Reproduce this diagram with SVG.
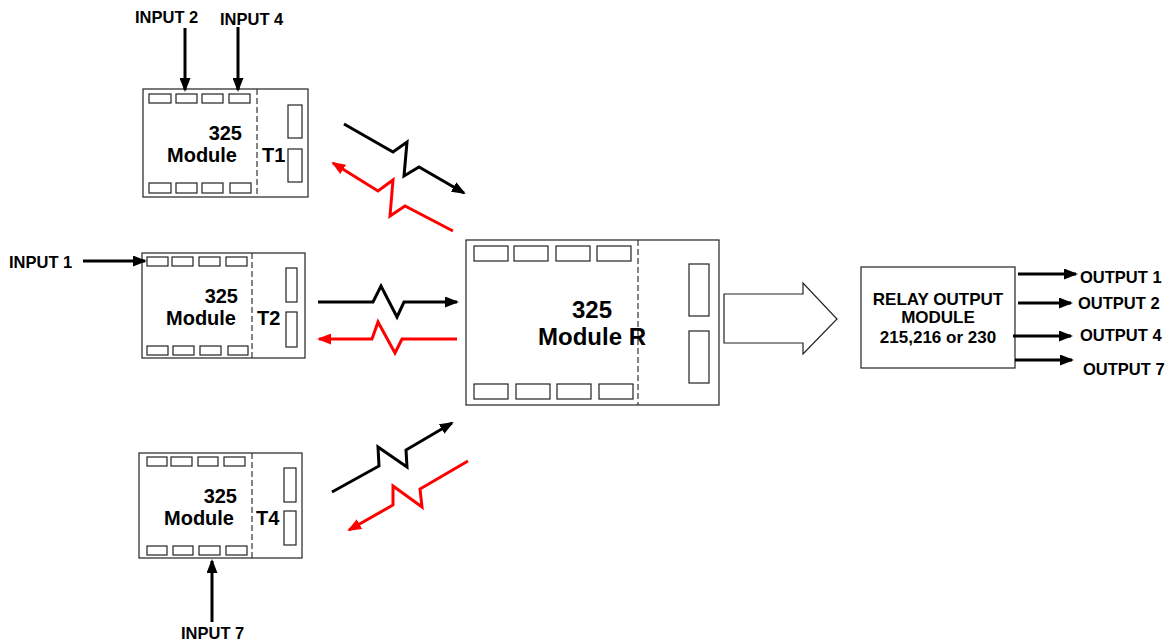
<svg xmlns="http://www.w3.org/2000/svg" width="1174" height="644" viewBox="0 0 1174 644">
<style>
text{font-family:"Liberation Sans",Arial,sans-serif;font-weight:bold;fill:#000}
.lbl{font-size:16.5px}
.mod{font-size:20px}
.big{font-size:24px}
.rel{font-size:17px}
.box{fill:#fff;stroke:#222;stroke-width:1.2}
.sq{fill:#fff;stroke:#222;stroke-width:1.2}
.dash{stroke:#333;stroke-width:1.2;stroke-dasharray:6,3;fill:none}
.k{stroke:#000;stroke-width:3;fill:none;stroke-linejoin:miter}
.r{stroke:#f00;stroke-width:3;fill:none;stroke-linejoin:miter}
</style>
<defs>
<marker id="ak" viewBox="0 0 14 11" refX="12" refY="5.5" markerWidth="14" markerHeight="11" markerUnits="userSpaceOnUse" orient="auto"><path d="M0,0 L14,5.5 L0,11 Z" fill="#000"/></marker>
<marker id="ar" viewBox="0 0 14 11" refX="12" refY="5.5" markerWidth="14" markerHeight="11" markerUnits="userSpaceOnUse" orient="auto"><path d="M0,0 L14,5.5 L0,11 Z" fill="#f00"/></marker>
</defs>
<rect width="1174" height="644" fill="#fff"/>

<g id="T1">
<rect class="box" x="143" y="89" width="165" height="108"/>
<line class="dash" x1="257" y1="89" x2="257" y2="197"/>
<rect class="sq" x="149" y="94" width="22" height="9"/><rect class="sq" x="176" y="94" width="21" height="9"/><rect class="sq" x="202" y="94" width="21" height="9"/><rect class="sq" x="229" y="94" width="21" height="9"/>
<rect class="sq" x="149" y="183" width="22" height="10"/><rect class="sq" x="176" y="183" width="21" height="10"/><rect class="sq" x="202" y="183" width="21" height="10"/><rect class="sq" x="230" y="183" width="21" height="10"/>
<rect class="sq" x="288" y="105" width="14" height="33"/><rect class="sq" x="288" y="149" width="14" height="33"/>
<text class="mod" x="242" y="140" text-anchor="end">325</text>
<text class="mod" x="167" y="162">Module</text>
<text class="mod" x="262" y="162">T1</text>
</g>

<g id="T2">
<rect class="box" x="142" y="253" width="163" height="105"/>
<line class="dash" x1="252" y1="253" x2="252" y2="358"/>
<rect class="sq" x="147" y="257" width="21" height="9"/><rect class="sq" x="172" y="257" width="21" height="9"/><rect class="sq" x="199" y="257" width="21" height="9"/><rect class="sq" x="226" y="257" width="21" height="9"/>
<rect class="sq" x="147" y="346" width="21" height="9"/><rect class="sq" x="173" y="346" width="21" height="9"/><rect class="sq" x="200" y="346" width="21" height="9"/><rect class="sq" x="228" y="346" width="20" height="9"/>
<rect class="sq" x="286" y="268" width="11" height="34"/><rect class="sq" x="286" y="312" width="11" height="35"/>
<text class="mod" x="238" y="303" text-anchor="end">325</text>
<text class="mod" x="166" y="325">Module</text>
<text class="mod" x="257" y="325">T2</text>
</g>

<g id="T4">
<rect class="box" x="139" y="453" width="163" height="105"/>
<line class="dash" x1="252" y1="453" x2="252" y2="558"/>
<rect class="sq" x="147" y="457" width="20" height="9"/><rect class="sq" x="171" y="457" width="21" height="9"/><rect class="sq" x="198" y="457" width="20" height="9"/><rect class="sq" x="224" y="457" width="21" height="9"/>
<rect class="sq" x="147" y="546" width="20" height="9"/><rect class="sq" x="173" y="546" width="20" height="9"/><rect class="sq" x="199" y="546" width="21" height="9"/><rect class="sq" x="226" y="546" width="21" height="9"/>
<rect class="sq" x="284" y="468" width="12" height="34"/><rect class="sq" x="284" y="511" width="12" height="34"/>
<text class="mod" x="237" y="503" text-anchor="end">325</text>
<text class="mod" x="164" y="525">Module</text>
<text class="mod" x="256" y="525">T4</text>
</g>

<g id="R">
<rect class="box" x="466" y="240" width="253" height="165"/>
<line class="dash" x1="638" y1="240" x2="638" y2="405"/>
<rect class="sq" x="474" y="246" width="34" height="15"/><rect class="sq" x="514" y="246" width="34" height="15"/><rect class="sq" x="556" y="246" width="34" height="15"/><rect class="sq" x="597" y="246" width="34" height="15"/>
<rect class="sq" x="474" y="384" width="34" height="15"/><rect class="sq" x="516" y="384" width="34" height="15"/><rect class="sq" x="557" y="384" width="34" height="15"/><rect class="sq" x="599" y="384" width="34" height="15"/>
<rect class="sq" x="689" y="264" width="20" height="52"/><rect class="sq" x="689" y="331" width="20" height="52"/>
<text class="big" x="592" y="318" text-anchor="middle">325</text>
<text class="big" x="538" y="345">Module R</text>
</g>

<g id="bigarrow">
<polygon points="724,294 803,294 803,283 837,319 803,354 803,343 724,343" fill="#fff" stroke="#222" stroke-width="1.2"/>
</g>

<g id="relay">
<rect class="box" x="861" y="267" width="154" height="101"/>
<text class="rel" x="938" y="305" text-anchor="middle">RELAY OUTPUT</text>
<text class="rel" x="938" y="323" text-anchor="middle">MODULE</text>
<text class="rel" x="938" y="343" text-anchor="middle">215,216 or 230</text>
</g>

<g id="labels">
<text class="lbl" x="135" y="23">INPUT 2</text>
<text class="lbl" x="220" y="25">INPUT 4</text>
<text class="lbl" x="9" y="268">INPUT 1</text>
<text class="lbl" x="181" y="639">INPUT 7</text>
<text class="lbl" x="1080" y="283">OUTPUT 1</text>
<text class="lbl" x="1078" y="309">OUTPUT 2</text>
<text class="lbl" x="1080" y="341">OUTPUT 4</text>
<text class="lbl" x="1083" y="375">OUTPUT 7</text>
</g>

<g id="connectors">
<line class="k" x1="185" y1="28" x2="185" y2="90" marker-end="url(#ak)"/>
<line class="k" x1="238" y1="27" x2="238" y2="90" marker-end="url(#ak)"/>
<line class="k" x1="83" y1="261" x2="145" y2="261" marker-end="url(#ak)"/>
<line class="k" x1="212" y1="622" x2="212" y2="561" marker-end="url(#ak)"/>
<line class="k" x1="1018" y1="274" x2="1076" y2="274" marker-end="url(#ak)"/>
<line class="k" x1="1018" y1="303" x2="1071" y2="303" marker-end="url(#ak)"/>
<line class="k" x1="1013" y1="336" x2="1071" y2="336" marker-end="url(#ak)"/>
<line class="k" x1="1015" y1="360" x2="1072" y2="360" marker-end="url(#ak)"/>
<polyline class="k" points="344,124 393,152 407,142 404,176 419,167 464,193" marker-end="url(#ak)"/>
<polyline class="r" points="453,231 405,206 390,216 393,180 378,191 333,163" marker-end="url(#ar)"/>
<polyline class="k" points="318,302 373,302 381,286 397,317 404,302 457,302" marker-end="url(#ak)"/>
<polyline class="r" points="457,339 402,339 395,353 378,322 372,339 319,339" marker-end="url(#ar)"/>
<polyline class="k" points="332,492 379,466 378,447 407,467 406,450 452,423" marker-end="url(#ak)"/>
<polyline class="r" points="468,461 420,489 422,507 393,486 393,505 349,530" marker-end="url(#ar)"/>
</g>
</svg>
